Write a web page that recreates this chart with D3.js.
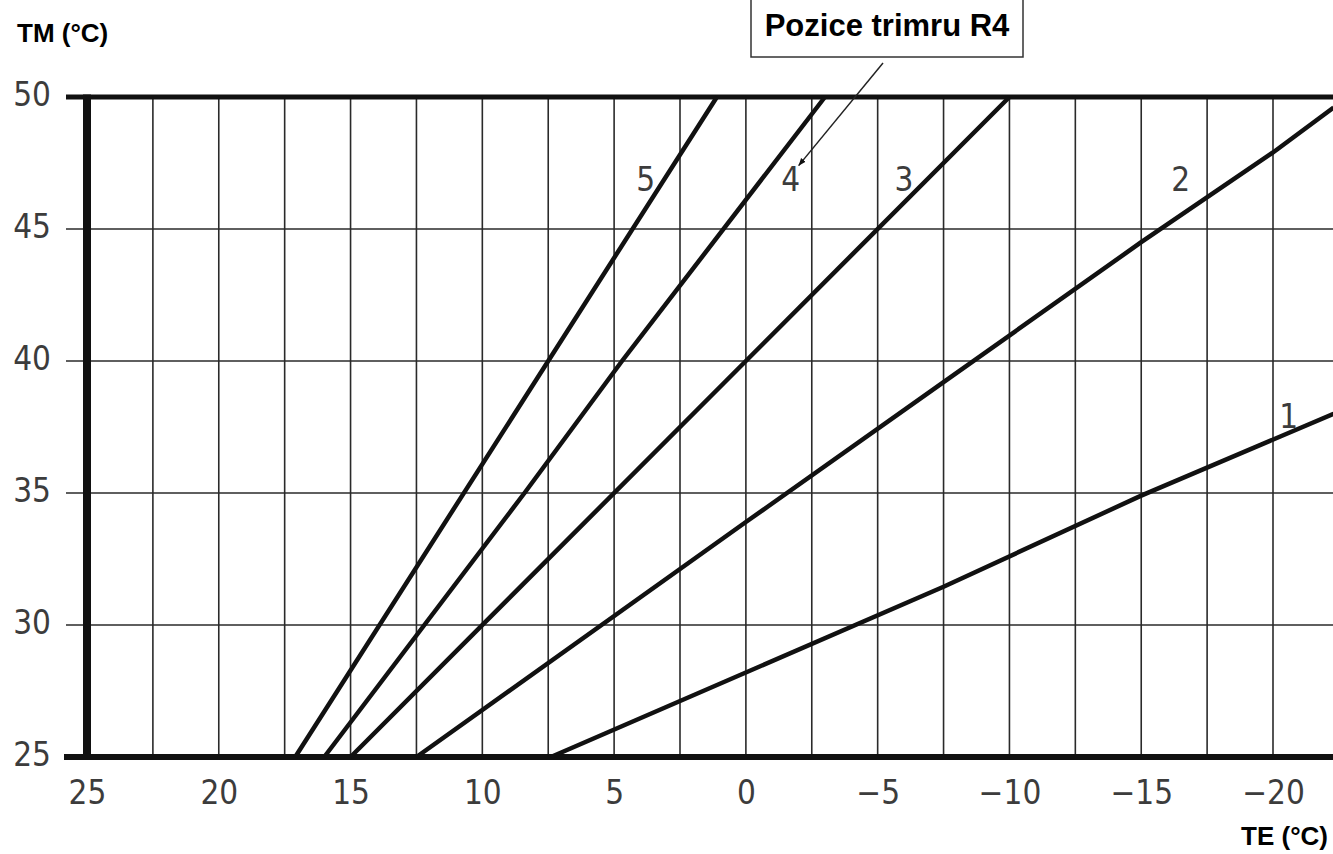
<!DOCTYPE html>
<html>
<head>
<meta charset="utf-8">
<script src="https://cdn.jsdelivr.net/npm/d3@7"></script>
<style>
  body { margin: 0; background: #fff; }
  svg { display: block; }
  .tick text { font-family: "DejaVu Sans Condensed", "DejaVu Sans", sans-serif; font-size: 33px; fill: #3c3c3c; }
  .title { font-family: "Liberation Sans", Arial, sans-serif; font-weight: bold; fill: #000; }
</style>
</head>
<body>
<svg width="1333" height="854"></svg>
<script>
var width = 1333;
var height = 854;

// tick labels
var teTicks = [25, 20, 15, 10, 5, 0, -5, -10, -15, -20];
var teGrid = [22.5, 20, 17.5, 15, 12.5, 10, 7.5, 5, 2.5, 0, -2.5, -5, -7.5, -10, -12.5, -15, -17.5, -20];
var tmTicks = [25, 30, 35, 40, 45, 50];

// heating curves, [TE, TM]
var curve1 = [[7.4, 25], [-7.5, 31.45], [-15, 34.9], [-22.3, 38]];
var curve2 = [[12.5, 25], [0, 33.9], [-7.5, 39.2], [-15, 44.5], [-20, 47.9], [-22.3, 49.6]];
var curve3 = [[15, 25], [0, 40], [-10, 50]];
var curve4 = [[16, 25], [8.4, 35], [4.7, 40], [-3, 50]];
var curve5 = [[17.1, 25], [7.5, 40], [1.1, 50]];
var curves = [curve1, curve2, curve3, curve4, curve5];

var curveNames = ["1", "2", "3", "4", "5"];
var labelTE = [-20.6, -16.5, -6.0, -1.7, 3.8];
var labelTM = [37.9, 46.9, 46.9, 46.9, 46.9];

var annotation = "Pozice trimru R4";
var arrowTip = [-2.0, 47.4];

var svg = d3.select("svg");

var x = d3.scaleLinear().domain([25, -20]).range([87, 1273]);
var y = d3.scaleLinear().domain([25, 50]).range([757, 97]);

// grid
var grid = svg.append("g").attr("class", "grid");
grid.selectAll(".vline")
    .data(teGrid)
    .enter()
    .append("line").attr("class", "vline")
    .attr("x1", function(d){ return x(d); })
    .attr("x2", function(d){ return x(d); })
    .attr("y1", y(50))
    .attr("y2", y(25))
    .style("stroke", "#2a2a2a")
    .style("stroke-width", 1.6);

grid.selectAll(".hline")
    .data(tmTicks.filter(function(d){ return d != 25 && d != 50; }))
    .enter()
    .append("line").attr("class", "hline")
    .attr("x1", 66)
    .attr("x2", width)
    .attr("y1", function(d){ return y(d); })
    .attr("y2", function(d){ return y(d); })
    .style("stroke", "#2a2a2a")
    .style("stroke-width", 1.6);

// frame
svg.append("line")
    .attr("x1", 66).attr("x2", width)
    .attr("y1", y(50)).attr("y2", y(50))
    .style("stroke", "#111").style("stroke-width", 5);
svg.append("line")
    .attr("x1", 64).attr("x2", width)
    .attr("y1", y(25)).attr("y2", y(25))
    .style("stroke", "#111").style("stroke-width", 6);
svg.append("line")
    .attr("x1", x(25)).attr("x2", x(25))
    .attr("y1", y(50) - 2.5).attr("y2", y(25) + 3)
    .style("stroke", "#111").style("stroke-width", 8);

// curves
var line = d3.line()
    .x(function(d){ return x(d[0]); })
    .y(function(d){ return y(d[1]); });

svg.append("g").selectAll("path")
    .data(curves)
    .enter()
    .append("path")
    .attr("d", line)
    .style("fill", "none")
    .style("stroke", "#111")
    .style("stroke-width", 4.5);

// curve labels
svg.append("g").attr("class", "tick").selectAll("text")
    .data(curveNames)
    .enter()
    .append("text")
    .attr("x", function(d, i){ return x(labelTE[i]); })
    .attr("y", function(d, i){ return y(labelTM[i]); })
    .attr("dy", "0.36em")
    .attr("text-anchor", "middle")
    .text(function(d){ return d; });

// axes (labels only)
var axisX = d3.axisBottom(x)
    .tickValues(teTicks)
    .tickSize(0)
    .tickPadding(0)
    .tickFormat(d3.format("d"));
svg.append("g").attr("class", "axis axis-x")
    .attr("transform", "translate(0,780)")
    .call(axisX)
    .call(function(g){ g.select(".domain").remove(); })
    .selectAll("text").attr("dy", "0.72em");

var axisY = d3.axisLeft(y)
    .tickValues(tmTicks)
    .tickSize(0)
    .tickPadding(0)
    .tickFormat(d3.format("d"));
svg.append("g").attr("class", "axis axis-y")
    .attr("transform", "translate(51,-3)")
    .call(axisY)
    .call(function(g){ g.select(".domain").remove(); })
    .selectAll("text").attr("dy", "0.36em");

// axis titles
svg.append("text").attr("class", "title")
    .attr("x", 17).attr("y", 42)
    .style("font-size", "26px")
    .text("TM (°C)");
svg.append("text").attr("class", "title")
    .attr("x", 1328).attr("y", 845)
    .attr("text-anchor", "end")
    .style("font-size", "26px")
    .text("TE (°C)");

// annotation box + leader
svg.append("defs").append("marker")
    .attr("id", "arrow")
    .attr("viewBox", "0 0 10 10")
    .attr("refX", 10).attr("refY", 5)
    .attr("markerWidth", 5).attr("markerHeight", 5)
    .attr("orient", "auto")
    .append("path")
    .attr("d", "M0,1 L10,5 L0,9 Z")
    .style("fill", "#111");

svg.append("line")
    .attr("x1", 883).attr("y1", 63)
    .attr("x2", x(arrowTip[0])).attr("y2", y(arrowTip[1]))
    .style("stroke", "#222")
    .style("stroke-width", 1.5)
    .attr("marker-end", "url(#arrow)");

svg.append("rect")
    .attr("x", 751).attr("y", -2)
    .attr("width", 272).attr("height", 59)
    .style("fill", "#fff")
    .style("stroke", "#333")
    .style("stroke-width", 1.5);
svg.append("text").attr("class", "title")
    .attr("x", 887).attr("y", 36)
    .attr("text-anchor", "middle")
    .style("font-size", "31px")
    .text(annotation);
</script>
</body>
</html>
